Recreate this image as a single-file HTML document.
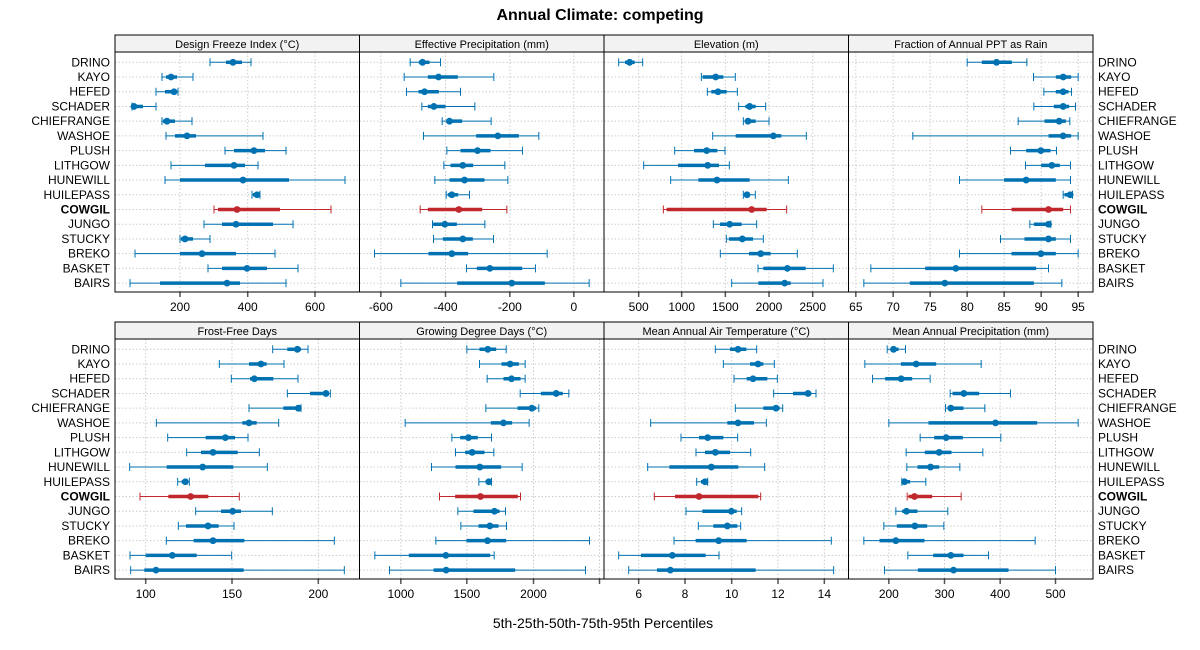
<!DOCTYPE html>
<html><head><meta charset="utf-8"><style>
html,body{margin:0;padding:0;background:#fff;width:1200px;height:650px;overflow:hidden}
svg text{font-family:"Liberation Sans",sans-serif}
</style></head><body>
<svg id="s" xmlns="http://www.w3.org/2000/svg" width="1200" height="650" viewBox="0 0 1200 650"></svg>
<script>
(function(){
var s=document.getElementById('s');var h='';
var names=["DRINO","KAYO","HEFED","SCHADER","CHIEFRANGE","WASHOE","PLUSH","LITHGOW","HUNEWILL","HUILEPASS","COWGIL","JUNGO","STUCKY","BREKO","BASKET","BAIRS"];
var L=[115,359.5,604,848.5],W=[244.5,244.5,244.5,244.5];
var P=[
{t:"Design Freeze Index (°C)",abs:true,ticks:[[180,"200"],[247.7,"400"],[315,"600"]],d:[
[210,226,233,242,251],[162,166,171,177,193],[156,165,174,177,178],[132,131,134,143,156],[162,163,167,175,192],[166,175,187,196,263],[225,234,254,265,286],[171,205,234,245,258],[165,180,243,289,345],[252,253,257,259,260],[214,218,237,280,331],[204,222,236,273,293],[180,181,185,193,210],[135,180,202,236,275],[208,222,247,267,298],[130,160,227,240,286]]},
{t:"Effective Precipitation (mm)",ticks:[[64,"-600"],[258,"-400"],[451,"-200"],[643,"0"]],d:[
[152,178,189,210,243],[134,205,237,295,403],[141,177,195,238,303],[187,205,223,258,346],[248,260,270,308,395],[192,350,415,478,538],[262,303,354,393,489],[253,273,310,341,436],[226,270,315,375,445],[260,265,277,296,330],[182,205,298,368,442],[219,221,256,292,376],[222,250,310,340,402],[45,207,277,326,563],[321,352,391,488,528],[124,293,457,556,689]]},
{t:"Elevation (m)",ticks:[[104,"500"],[233,"1000"],[364,"1500"],[495,"2000"],[626,"2500"]],d:[
[44,63,77,92,116],[292,296,335,358,394],[310,322,342,368,400],[404,424,437,455,485],[418,424,432,455,495],[326,395,508,532,607],[212,270,308,340,363],[119,222,311,345,376],[200,283,339,437,553],[418,420,429,437,454],[178,188,443,488,548],[328,348,377,413,458],[367,375,415,447,478],[349,435,470,500,580],[462,478,550,605,688],[383,463,542,560,657]]},
{t:"Fraction of Annual PPT as Rain",ticks:[[22,"65"],[134,"70"],[245,"75"],[356,"80"],[467,"85"],[578,"90"],[689,"95"]],d:[
[356,400,444,490,535],[555,622,644,668,689],[586,622,644,660,669],[556,616,644,662,681],[509,588,632,652,664],[193,600,644,668,689],[486,533,577,606,624],[531,578,610,634,666],[333,467,533,622,666],[644,648,665,672,672],[400,489,600,644,666],[544,556,600,607,607],[456,528,600,622,666],[333,489,577,622,689],[67,230,322,563,600],[46,184,289,556,640]]},
{t:"Frost-Free Days",ticks:[[92,"100"],[351,"150"],[610,"200"]],d:[
[473,517,547,558,579],[313,402,438,455,507],[349,405,418,475,549],[517,585,633,640,646],[402,505,550,555,558],[124,382,402,425,491],[158,272,331,360,399],[215,258,294,368,433],[44,155,263,355,457],[188,200,211,218,223],[75,160,227,280,373],[242,318,353,378,472],[190,213,279,311,357],[154,236,294,388,658],[45,92,172,245,350],[47,88,123,386,688]]},
{t:"Growing Degree Days (°C)",ticks:[[124,"1000"],[322,"1500"],[522,"2000"],[720,""]],d:[
[322,360,385,410,440],[360,426,452,478,497],[383,432,456,483,497],[482,544,590,610,628],[379,474,517,530,538],[137,394,432,458,509],[277,302,327,355,396],[288,317,338,375,403],[216,288,361,425,488],[358,378,388,392,396],[240,287,363,475,483],[295,342,405,420,438],[304,357,391,417,441],[229,321,384,440,690],[46,148,259,392,404],[90,222,260,467,678]]},
{t:"Mean Annual Air Temperature (°C)",ticks:[[104,"6"],[243,"8"],[383,"10"],[522,"12"],[661,"14"]],d:[
[334,378,402,427,458],[358,438,462,478,511],[390,428,447,490,520],[509,567,612,622,636],[394,478,516,527,536],[140,370,402,450,487],[231,285,311,358,401],[276,303,334,378,440],[131,196,322,403,482],[278,291,303,309,311],[151,213,285,463,470],[246,295,382,398,413],[283,328,370,400,410],[210,275,344,428,682],[44,111,205,305,345],[74,159,199,455,689]]},
{t:"Mean Annual Precipitation (mm)",ticks:[[121,"200"],[288,"300"],[455,"400"],[621,"500"]],d:[
[116,127,135,150,171],[49,157,203,263,398],[72,110,158,191,245],[305,312,346,392,486],[291,297,307,345,409],[121,240,441,566,689],[215,257,293,343,457],[173,229,272,309,403],[175,207,246,272,334],[160,163,168,185,232],[176,180,198,251,338],[142,161,174,207,298],[106,145,199,236,286],[46,93,142,228,560],[178,254,307,345,420],[108,208,315,480,621]]}
];
h+='<text x="600" y="20" text-anchor="middle" font-size="16" font-weight="bold">Annual Climate: competing</text>';
h+='<text x="603" y="628" text-anchor="middle" font-size="14">5th-25th-50th-75th-95th Percentiles</text>';
for(var r=0;r<2;r++){
 var tp=r?322:35, pt=tp+17, pb=tp+257, y0=r?349.3:62.3, dy=14.72;
 for(var i=0;i<16;i++){var y=y0+i*dy;var b=i==10?' font-weight="bold"':'';
  h+='<text x="110" y="'+(y+4)+'" text-anchor="end" font-size="12"'+b+'>'+names[i]+'</text>';
  h+='<text x="1098" y="'+(y+4)+'" font-size="12"'+b+'>'+names[i]+'</text>';}
 for(var c=0;c<4;c++){
  var p=P[r*4+c],l=L[c],w=W[c];
  var X=(function(pp,ll){return function(v){return pp.abs?v:ll+v/3;};})(p,l);
  h+='<rect x="'+l+'" y="'+tp+'" width="'+w+'" height="17" fill="#f2f2f2" stroke="#000" stroke-width="1"/>';
  h+='<text x="'+(l+w/2)+'" y="'+(tp+13)+'" text-anchor="middle" font-size="11">'+p.t+'</text>';
  for(var k=0;k<p.ticks.length;k++){var tx=X(p.ticks[k][0]);
   if(tx<l+w){h+='<line x1="'+tx+'" x2="'+tx+'" y1="'+pt+'" y2="'+pb+'" stroke="#ccc" stroke-dasharray="1.5,2"/>';}
   h+='<line x1="'+tx+'" x2="'+tx+'" y1="'+pb+'" y2="'+(pb+5)+'" stroke="#555" stroke-width="1.5"/>';
   h+='<text x="'+tx+'" y="'+(pb+19)+'" text-anchor="middle" font-size="12">'+p.ticks[k][1]+'</text>';}
  for(var i=0;i<16;i++){var y=y0+i*dy;
   h+='<line x1="'+l+'" x2="'+(l+w)+'" y1="'+y+'" y2="'+y+'" stroke="#ccc" stroke-dasharray="1.5,2"/>';}
  for(var i=0;i<16;i++){var y=y0+i*dy,d=p.d[i].map(X),col=i==10?'#c0282d':'#0072b2';
   h+='<line x1="'+d[0]+'" x2="'+d[4]+'" y1="'+y+'" y2="'+y+'" stroke="'+col+'" stroke-width="1"/>';
   h+='<line x1="'+d[0]+'" x2="'+d[0]+'" y1="'+(y-4)+'" y2="'+(y+4)+'" stroke="'+col+'" stroke-width="1"/>';
   h+='<line x1="'+d[4]+'" x2="'+d[4]+'" y1="'+(y-4)+'" y2="'+(y+4)+'" stroke="'+col+'" stroke-width="1"/>';
   h+='<line x1="'+Math.min(d[1],d[3])+'" x2="'+Math.max(d[1],d[3])+'" y1="'+y+'" y2="'+y+'" stroke="'+col+'" stroke-width="3.5"/>';
   h+='<circle cx="'+d[2]+'" cy="'+y+'" r="3.4" fill="'+col+'"/>';}
  h+='<rect x="'+l+'" y="'+pt+'" width="'+w+'" height="'+(pb-pt)+'" fill="none" stroke="#000" stroke-width="1"/>';
 }
}
s.innerHTML=h;
})();
</script>
</body></html>
